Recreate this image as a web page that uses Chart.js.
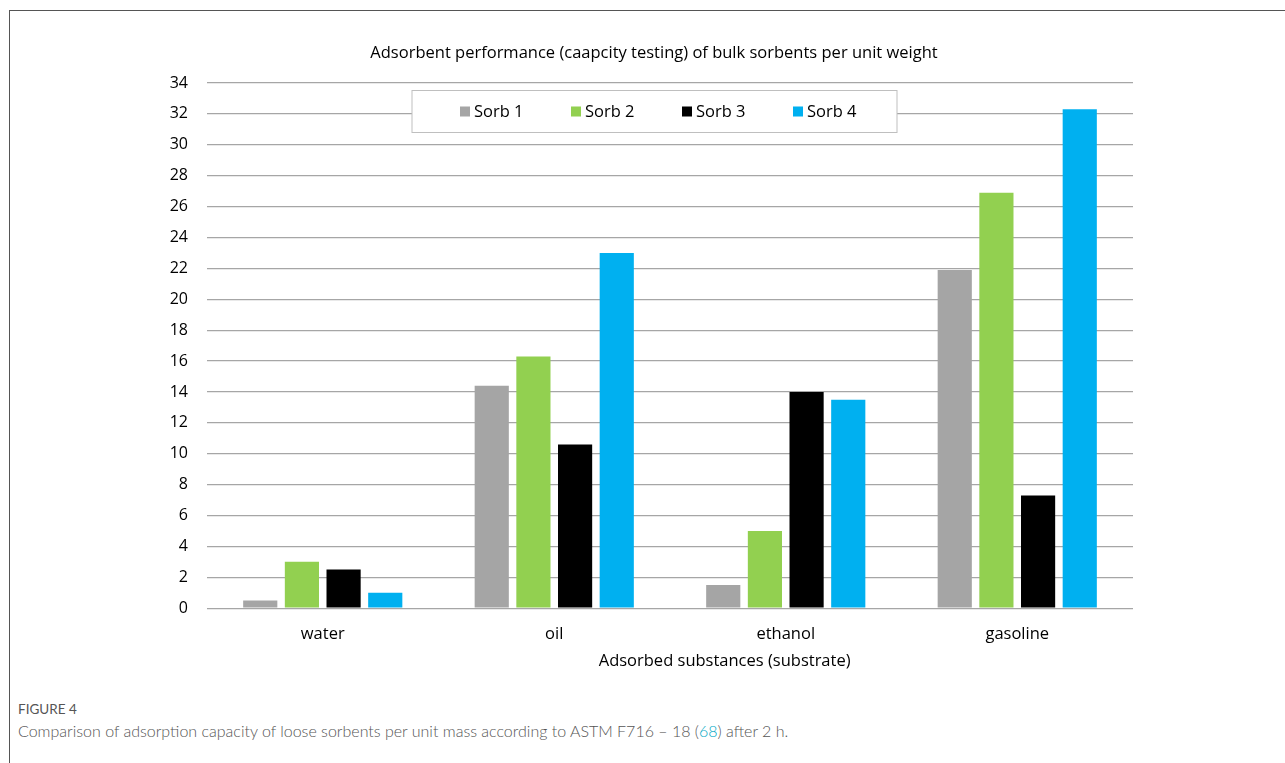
<!DOCTYPE html>
<html>
<head>
<meta charset="utf-8">
<script src="https://cdn.jsdelivr.net/npm/chart.js@4"></script>
<style>
  body { margin: 0; background: #fff; width: 1285px; height: 763px; overflow: hidden; position: relative; }
  .frame { position: absolute; left: 9px; top: 10px; width: 1400px; height: 900px; border: 1px solid #555; }
  .chartBox { position: absolute; left: 10px; top: 11px; width: 1275px; height: 670px; }
  .figLabel { position: absolute; left: 18px; top: 701px; font: 13.5px Lato, sans-serif; color: #555; }
  .figText { position: absolute; left: 18px; top: 721px; font: 300 16px Lato, sans-serif; color: #555; white-space: nowrap; }
  .figText a { color: #00a7c4; text-decoration: none; }
</style>
</head>
<body>
<div class="frame"></div>
<div class="chartBox"><canvas id="myChart"></canvas></div>
<div class="figLabel">FIGURE 4</div>
<div class="figText">Comparison of adsorption capacity of loose sorbents per unit mass according to ASTM F716 – 18 (<a>68</a>) after 2 h.</div>
<script>
// данные с графика
const categories = ['water', 'oil', 'ethanol', 'gasoline'];
const sorb1 = [0.5, 14.4, 1.5, 21.9];
const sorb2 = [3.0, 16.3, 5.0, 26.9];
const sorb3 = [2.5, 10.6, 14.0, 7.3];
const sorb4 = [1.0, 23.0, 13.5, 32.3];
const seriesNames = ['Sorb 1', 'Sorb 2', 'Sorb 3', 'Sorb 4'];
const seriesColors = ['#a5a5a5', '#92d050', '#000000', '#00b0f0'];
const chartTitle = 'Adsorbent performance (caapcity testing) of bulk sorbents per unit weight';
const xTitle = 'Adsorbed substances (substrate)';

const FONT = '"Open Sans", sans-serif';

function createDataset(label, data, color) {
    return {
        label,
        data,
        backgroundColor: color,
        borderWidth: 0,
        categoryPercentage: 0.72,
        barPercentage: 0.82
    };
}

// заголовок, легенда в рамке и подпись оси X
const extrasPlugin = {
    id: 'extras',
    afterDraw(chart) {
        const ctx = chart.ctx;
        const a = chart.chartArea;
        const cx = (a.left + a.right) / 2 - 16;
        ctx.save();
        ctx.fillStyle = '#000';
        ctx.textAlign = 'center';
        ctx.textBaseline = 'middle';
        ctx.font = '16.5px ' + FONT;
        ctx.fillText(chartTitle, cx, a.top - 30);
        ctx.fillText(xTitle, a.left + (a.right - a.left) * 0.559, a.bottom + 53);

        // легенда
        const bw = 485, bh = 42;
        const bx = cx - bw / 2 + 0.5, by = a.top + 7.5;
        ctx.fillStyle = '#fff';
        ctx.fillRect(bx, by, bw, bh);
        ctx.strokeStyle = '#bfbfbf';
        ctx.lineWidth = 1;
        ctx.strokeRect(bx, by, bw, bh);
        ctx.textAlign = 'left';
        chart.data.datasets.forEach((ds, i) => {
            const x = bx + 48 + i * 111;
            const y = by + bh / 2;
            ctx.fillStyle = ds.backgroundColor;
            ctx.fillRect(x, y - 5, 10, 10);
            ctx.fillStyle = '#000';
            ctx.fillText(ds.label, x + 14, y + 1);
        });
        ctx.restore();
    }
};

const ctx = document.getElementById('myChart').getContext('2d');
new Chart(ctx, {
    type: 'bar',
    data: {
        labels: categories,
        datasets: [
            createDataset(seriesNames[0], sorb1, seriesColors[0]),
            createDataset(seriesNames[1], sorb2, seriesColors[1]),
            createDataset(seriesNames[2], sorb3, seriesColors[2]),
            createDataset(seriesNames[3], sorb4, seriesColors[3])
        ]
    },
    options: {
        responsive: true,
        maintainAspectRatio: false,
        animation: false,
        layout: { padding: { top: 72, right: 152, bottom: 21, left: 0 } },
        plugins: {
            legend: { display: false },
            title: { display: false },
            tooltip: { enabled: false }
        },
        scales: {
            x: {
                grid: { display: false, drawTicks: false },
                border: { display: false },
                ticks: { color: '#000', padding: 16, font: { family: FONT, size: 16.5 } }
            },
            y: {
                min: 0,
                max: 34,
                afterFit: scale => { scale.width = 197; },
                grid: { color: '#a6a6a6', lineWidth: 1.3, drawTicks: false },
                border: { display: false },
                ticks: { stepSize: 2, color: '#000', padding: 19, font: { family: FONT, size: 16 } }
            }
        }
    },
    plugins: [extrasPlugin]
});
</script>
</body>
</html>
